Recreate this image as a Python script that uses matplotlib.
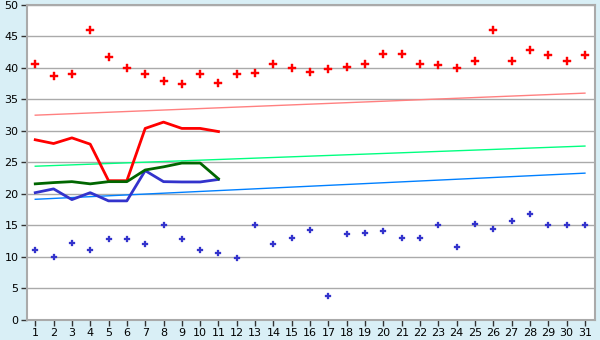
import matplotlib
matplotlib.use("Agg")
import matplotlib.pyplot as plt

# Days of the month
days = list(range(1, 32))

# Daily maximum / minimum points
max_points = [40.7, 38.7, 39.0, 46.0, 41.7, 40.0, 39.0, 37.9, 37.4, 39.0,
              37.6, 39.0, 39.2, 40.7, 40.0, 39.3, 39.8, 40.1, 40.6, 42.2,
              42.2, 40.6, 40.4, 40.0, 41.1, 46.0, 41.1, 42.8, 42.0, 41.1, 42.0]
min_points = [11.1, 10.0, 12.2, 11.1, 12.8, 12.8, 12.0, 15.0, 12.8, 11.1,
              10.7, 9.8, 15.0, 12.0, 13.0, 14.2, 3.8, 13.6, 13.8, 14.1,
              13.0, 13.0, 15.0, 11.5, 15.2, 14.4, 15.7, 16.8, 15.0, 15.0, 15.0]

# Lines covering the first 11 days
line_days = list(range(1, 12))
red_line = [28.6, 28.0, 28.9, 27.9, 22.1, 22.1, 30.4, 31.4, 30.4, 30.4, 29.9]
green_line = [21.6, 21.8, 21.95, 21.6, 21.95, 21.95, 23.8, 24.3, 24.9, 24.9, 22.4]
blue_line = [20.2, 20.8, 19.1, 20.2, 18.9, 18.9, 23.7, 21.95, 21.9, 21.9, 22.3]

# Trend lines (start at day 1, end at day 31)
trend_days = [1, 31]
pink_trend = [32.5, 36.0]
spring_trend = [24.4, 27.6]
sky_trend = [19.15, 23.3]

fig = plt.figure(figsize=(6, 3.4), dpi=100, facecolor="#d9eff6")
ax = fig.add_axes([0.045, 0.059, 0.9467, 0.9265])
ax.set_facecolor("white")

ax.plot(trend_days, pink_trend, color="#ff8080", lw=1)
ax.plot(trend_days, spring_trend, color="#00ff80", lw=1)
ax.plot(trend_days, sky_trend, color="#0080ff", lw=1)

ax.plot(line_days, red_line, color="#ff0000", lw=2)
ax.plot(line_days, blue_line, color="#3333cc", lw=2)
ax.plot(line_days, green_line, color="#006600", lw=2)

ax.plot(days, max_points, ls="none", marker="P", ms=5.5, color="#ff0000", mew=0.3)
ax.plot(days, min_points, ls="none", marker="P", ms=4.8, color="#3333cc", mew=0.2)

ax.set_xlim(0.55, 31.55)
ax.set_ylim(0, 50)
ax.set_xticks(days)
ax.set_yticks(range(0, 51, 5))
ax.tick_params(labelsize=8, length=4, width=1, color="#333333", pad=2)
ax.grid(axis="y", color="#aaaaaa", lw=1)
ax.set_axisbelow(True)
for s in ax.spines.values():
    s.set_color("#aaaaaa")
    s.set_linewidth(1.5)

fig.savefig("out.png", dpi=100, facecolor=fig.get_facecolor())
